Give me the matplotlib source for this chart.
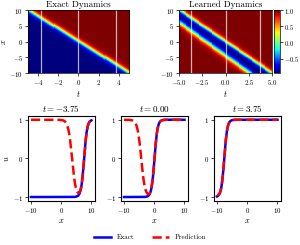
import numpy as np
import matplotlib.pyplot as plt

plt.rcParams['font.family'] = 'serif'
plt.rcParams['font.serif'] = ['cmr10']
plt.rcParams['mathtext.fontset'] = 'cm'
plt.rcParams['axes.formatter.use_mathtext'] = True
plt.rcParams['axes.unicode_minus'] = True

# values
t_range = [-5.0, 5.0]
x_range = [-10.0, 10.0]
t_slices = [-3.75, 0.0, 3.75]
front_speed = -2.0          # exact front: x = -2 t
front_sharpness = 1.0
# learned solution: extra (spurious) front below the true one
ghost_offset_t = [-3.75, 0.0, 3.75]
ghost_offset = [-4.0, -4.4, -4.8]
ghost_sharpness = 0.8

nt, nx = 100, 256
t = np.linspace(t_range[0], t_range[1], nt)
x = np.linspace(x_range[0], x_range[1], nx)
T, X = np.meshgrid(t, x)

U_exact = np.tanh(front_sharpness * (X - front_speed * T))
off = np.polyval(np.polyfit(ghost_offset_t, ghost_offset, 1), T)
U_pred = U_exact * np.tanh(ghost_sharpness * (X - front_speed * T - off))

fig = plt.figure(figsize=(3.0, 2.45), dpi=100)

ax1 = fig.add_axes([0.093, 0.702, 0.337, 0.257])
ax2 = fig.add_axes([0.597, 0.702, 0.31, 0.257])
cax = fig.add_axes([0.913, 0.702, 0.02, 0.257])

ext = [t_range[0], t_range[1], x_range[0], x_range[1]]
ax1.imshow(U_exact, extent=ext, origin='lower', aspect='auto', cmap='jet',
           interpolation='nearest')
im2 = ax2.imshow(U_pred, extent=ext, origin='lower', aspect='auto', cmap='jet',
                 interpolation='nearest')
cb = fig.colorbar(im2, cax=cax, ticks=[-0.5, 0.0, 0.5, 1.0])
cb.ax.tick_params(labelsize=4.8, length=2, width=0.5, pad=1)
cb.outline.set_linewidth(0.5)

for ax, title in [(ax1, 'Exact Dynamics'), (ax2, 'Learned Dynamics')]:
    for ts in t_slices:
        ax.axvline(ts, color='w', lw=0.9, alpha=0.7)
    ax.set_title(title, fontsize=6.5, pad=2)
    ax.set_xlabel('$t$', fontsize=6, labelpad=1.5)
    ax.set_yticks([-10, -5, 0, 5, 10])
    ax.tick_params(labelsize=5, length=2, width=0.5, pad=1.5)
    for s in ax.spines.values():
        s.set_linewidth(0.5)
ax1.set_ylabel('$x$', fontsize=6, labelpad=1)
ax1.set_xticks([-4, -2, 0, 2, 4])
ax2.set_xticks([-5.0, -2.5, 0.0, 2.5, 5.0])
ax2.set_xticklabels(['$-5.0$', '$-2.5$', '$0.0$', '$2.5$', '$5.0$'])

lefts = [0.093, 0.403, 0.713]
for i, ts in enumerate(t_slices):
    ax = fig.add_axes([lefts[i], 0.180, 0.222, 0.347])
    j = np.argmin(np.abs(t - ts))
    l1, = ax.plot(x, U_exact[:, j], color='b', lw=1.8, label='Exact')
    l2, = ax.plot(x, U_pred[:, j], color='r', ls='--', lw=1.8, label='Prediction')
    ax.set_xlim(-11, 11)
    ax.set_ylim(-1.1, 1.1)
    ax.set_xticks([-10, 0, 10])
    ax.set_yticks([-1, 0, 1])
    ax.set_title('$t = %.2f$' % ts, fontsize=6.5, pad=3)
    ax.set_xlabel('$x$', fontsize=6, labelpad=1.5)
    if i == 0:
        ax.set_ylabel('$u$', fontsize=6, labelpad=1)
    ax.tick_params(labelsize=5, length=2, width=0.5, pad=1.5)
    for s in ax.spines.values():
        s.set_linewidth(0.8)

fig.legend([l1, l2], ['Exact', 'Prediction'], loc='lower center', ncol=2,
           frameon=False, fontsize=5, bbox_to_anchor=(0.5, -0.005),
           handlelength=2.5, columnspacing=2.5)

fig.savefig('out.png', dpi=100)
